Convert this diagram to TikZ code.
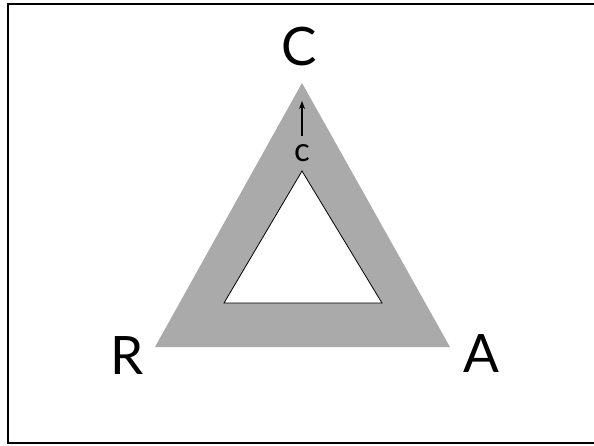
\documentclass[tikz,border=0pt]{standalone}
\usepackage{fontspec}
\setmainfont{Lato}
\usetikzlibrary{arrows.meta}
\definecolor{bandgray}{RGB}{170,170,170}
\begin{document}
\begin{tikzpicture}[x=1pt, y=-1pt,
  vertex/.style={font=\fontsize{53}{53}\selectfont, inner sep=0pt},
  small/.style={font=\fontsize{33}{33}\selectfont, inner sep=0pt},
  arrow/.style={-{Stealth[length=8pt, width=6pt]}, line width=1.5pt}
]
\useasboundingbox (0,0) rectangle (594,445);
\clip (0,0) rectangle (594,445);
\draw[line width=2pt] (8,4) rectangle (600,443);

% band between the two triangles
\fill[bandgray, even odd rule] (302,83) -- (450,347) -- (155,347) -- cycle
  (302,171) -- (382,303) -- (224,303) -- cycle;
\draw[line width=0.8pt] (302,171) -- (382,303) -- (224,303) -- cycle;

\node[vertex] (C) at (299,47) {C};
\node[vertex] (R) at (127,356) {R};
\node[vertex] (A) at (481,354) {A};

\node[small] (c) at (302,153) {c};
\coordinate (ctip) at (302,101);
\draw[arrow, shorten <=8pt] (c.north) -- (ctip);

\end{tikzpicture}
\end{document}
